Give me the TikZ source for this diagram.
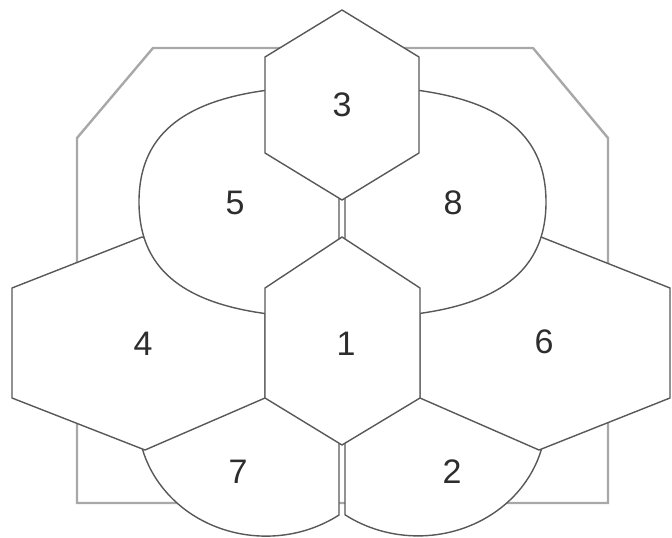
\documentclass[tikz,border=0pt]{standalone}
\usepackage{fontspec}
\setmainfont{Liberation Sans}
\definecolor{linegray}{RGB}{88,88,88}
\definecolor{rimgray}{RGB}{168,168,168}
\definecolor{numgray}{RGB}{45,45,45}

\begin{document}
\begin{tikzpicture}[x=1pt,y=-1pt,
region/.style={draw=linegray,fill=white,line width=1.4pt,line join=round},
rim/.style={draw=rimgray,line width=2.4pt},
num/.style={font=\fontsize{34}{40}\selectfont,text=numgray}]
\useasboundingbox (0,0) rectangle (672,538);
% outer frame
\draw[rim] (153,48) -- (533,48) -- (608,138) -- (608,503) -- (77,503) -- (77,138) -- cycle;
% lower half ellipses 7 and 2
\path[region] (339,515) arc[start angle=55.2,end angle=304.8,x radius=128,y radius=118] -- cycle;
\path[region] (345,321) arc[start angle=235.2,end angle=484.8,x radius=128,y radius=118] -- cycle;
% side hexagons 4 and 6
\path[region] (12,288) -- (142,237) -- (265,288) -- (265,398) -- (145,450) -- (12,398) -- cycle;
\path[region] (420,288) -- (541,237) -- (670,288) -- (670,398) -- (539,450) -- (420,398) -- cycle;
% upper ellipse, split into 5 and 8
\path[region] (339,86) .. controls (202,86) and (139,122) .. (139,202)
  .. controls (139,282) and (202,318) .. (339,318) -- cycle;
\path[region] (345,86) .. controls (482,86) and (546,122) .. (546,202)
  .. controls (546,282) and (482,318) .. (345,318) -- cycle;
% middle hexagons 3 and 1
\path[region] (342,10) -- (419,57) -- (419,153) -- (342,200) -- (265,153) -- (265,57) -- cycle;
\path[region] (342,237) -- (420,288) -- (420,398) -- (342,445) -- (265,398) -- (265,288) -- cycle;
% numbers
\node[num] (n1) at (346,344) {1};
\node[num] (n2) at (452,472) {2};
\node[num] (n3) at (342,105) {3};
\node[num] (n4) at (143,344) {4};
\node[num] (n5) at (235,203) {5};
\node[num] (n6) at (544,342) {6};
\node[num] (n7) at (238,472) {7};
\node[num] (n8) at (453,203) {8};
\end{tikzpicture}
\end{document}
